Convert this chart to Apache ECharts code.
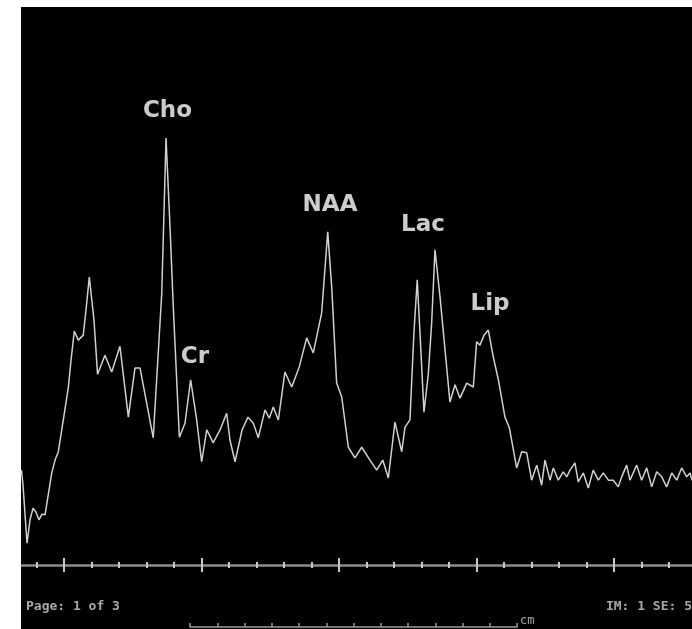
<!DOCTYPE html>
<html><head><meta charset="utf-8">
<script src="https://cdn.jsdelivr.net/npm/echarts@6/dist/echarts.min.js"></script>
<style>html,body{margin:0;padding:0;background:#fff}#c{width:692px;height:629px}</style>
</head><body><div id="c"></div>
<script>
// Chemical shift (ppm) of each traced point of the spectrum
const ppm = [4.309,4.298,4.269,4.247,4.225,4.204,4.182,4.160,4.138,4.089,4.065,4.041,4.009,3.969,3.949,3.925,3.896,3.860,3.840,3.816,3.782,3.756,3.702,3.653,3.593,3.532,3.484,3.447,3.351,3.289,3.258,3.229,3.205,3.161,3.120,3.098,3.079,3.035,2.999,2.962,2.938,2.916,2.865,2.817,2.793,2.756,2.705,2.662,2.623,2.587,2.538,2.507,2.478,2.441,2.393,2.344,2.289,2.235,2.187,2.126,2.082,2.053,2.017,1.980,1.932,1.884,1.835,1.775,1.726,1.682,1.641,1.593,1.544,1.520,1.484,1.455,1.431,1.411,1.382,1.351,1.326,1.302,1.265,1.193,1.156,1.120,1.071,1.023,0.999,0.975,0.945,0.914,0.878,0.841,0.793,0.761,0.708,0.671,0.635,0.599,0.562,0.526,0.502,0.465,0.441,0.405,0.369,0.344,0.320,0.284,0.260,0.223,0.187,0.151,0.114,0.078,0.041,0.005,-0.031,-0.056,-0.092,-0.116,-0.165,-0.201,-0.238,-0.274,-0.311,-0.347,-0.383,-0.420,-0.456,-0.492,-0.529,-0.553,-0.567];
// Signal intensity (arbitrary units) at each point
const intensity = [17.0,14.3,3.9,8.1,10.2,9.5,8.1,9.1,9.0,16.5,18.8,20.3,25.4,31.7,36.7,41.9,40.3,41.2,45.7,51.6,43.9,34.2,37.6,34.6,39.2,26.5,35.3,35.3,22.8,48.7,76.5,60.6,46.2,22.9,25.4,29.6,33.2,26.0,18.5,24.2,23.1,21.9,24.2,27.2,22.4,18.5,24.2,26.5,25.4,22.8,27.8,26.3,28.3,26.0,34.6,31.9,35.5,40.7,38.0,45.2,59.7,49.8,32.6,30.1,21.1,19.2,21.1,18.8,17.0,18.8,15.6,25.6,20.3,24.7,26.0,41.6,51.1,41.6,27.4,34.1,43.4,56.5,48.0,29.2,32.3,29.9,32.6,31.9,40.0,39.4,41.2,42.1,37.3,33.2,26.5,24.6,17.4,20.3,20.1,15.2,17.9,14.3,18.8,15.2,17.4,15.2,16.7,15.8,17.0,18.3,14.9,16.5,13.8,17.0,15.2,16.5,15.2,15.2,14.0,15.8,17.9,15.2,17.9,15.2,17.4,14.0,16.7,15.8,14.0,16.5,15.2,17.4,15.8,16.5,15.2];
// Visible ppm range and axis tick positions
const ppmRange = [-0.5673, 4.3127];
const majorTicks = [0,1,2,3,4];
const minorTicks = [-0.4,-0.2,0.2,0.4,0.6,0.8,1.2,1.4,1.6,1.8,2.2,2.4,2.6,2.8,3.2,3.4,3.6,3.8,4.2];
// Labelled metabolite peaks
const peakNames = ['Cho','Cr','NAA','Lac','Lip'];
const peakPpm = [3.258,3.079,2.082,1.302,0.914];
const peakIntensity = [76.5,33.2,59.7,56.5,42.1];
// Scale bar and footer texts
const rulerSteps = 12;
const rulerUnit = 'cm';
const footerLeft = 'Page: 1 of 3';
const footerRight = 'IM: 1 SE: 5';

// layout (style only)
const labelOffsets = [[1.5,-15.6],[4.3,-11.6],[2.3,-15.6],[-12,-13.6],[1.7,-14.6]];

const chart = echarts.init(document.getElementById('c'), null, {renderer:'canvas'});
function ppmAxis(showLine, tickVals, inside, len, w){
  return {
    type:'value', gridIndex:0, min:ppmRange[0], max:ppmRange[1], inverse:true, position:'bottom',
    axisLine:{show:showLine, onZero:false, lineStyle:{color:'#8c8c8c', width:2.5}},
    axisTick:{show:true, customValues:tickVals, inside:inside, length:len,
              lineStyle:{color:'#c8c8c8', width:w}},
    axisLabel:{show:false}, splitLine:{show:false}
  };
}
chart.setOption({
  animation:false,
  backgroundColor:'#000',
  grid:[
    {left:21, right:0, top:7, bottom:64},
    {left:190, right:175, top:626, bottom:2}
  ],
  xAxis:[
    ppmAxis(true, majorTicks, false, 7, 2),
    ppmAxis(false, majorTicks, true, 7, 2),
    ppmAxis(false, minorTicks, false, 3, 2),
    ppmAxis(false, minorTicks, true, 3, 2),
    {type:'value', gridIndex:1, min:0, max:rulerSteps, interval:1, position:'bottom',
     axisLine:{show:true, onZero:false, lineStyle:{color:'#9a9a9a', width:1.5}},
     axisTick:{show:true, inside:true, length:4, lineStyle:{color:'#9a9a9a', width:1.5}},
     axisLabel:{show:false}, splitLine:{show:false}}
  ],
  yAxis:[
    {type:'value', gridIndex:0, min:0, max:100, show:false},
    {type:'value', gridIndex:1, min:0, max:1, show:false}
  ],
  series:[
    {type:'line', xAxisIndex:0, yAxisIndex:0, showSymbol:false, symbol:'none',
     data: ppm.map((p,i)=>[p,intensity[i]]),
     lineStyle:{color:'#d0d0d0', width:1.5}, z:3},
    {type:'scatter', xAxisIndex:0, yAxisIndex:0, symbolSize:0, z:4,
     data: peakNames.map((n,i)=>({name:n, value:[peakPpm[i],peakIntensity[i]],
       label:{offset:labelOffsets[i]}})),
     label:{show:true, position:'top', distance:0, formatter:'{b}',
       color:'#ffffff', fontFamily:'DejaVu Sans', fontWeight:'bold', fontSize:23}}
  ],
  graphic:[
    {type:'text', left:26, top:600, z:50, style:{text:footerLeft, fill:'#a8a8a8',
      font:'bold 13px "DejaVu Sans Mono"'}},
    {type:'text', right:0, top:600, z:50, style:{text:footerRight, fill:'#a8a8a8',
      font:'bold 13px "DejaVu Sans Mono"'}},
    {type:'text', left:520, top:615, z:50, style:{text:rulerUnit, fill:'#a8a8a8',
      font:'12px "DejaVu Sans Mono"'}},
    {type:'rect', shape:{x:0,y:0,width:21,height:629}, style:{fill:'#ffffff'}, z:100},
    {type:'rect', shape:{x:0,y:0,width:692,height:7}, style:{fill:'#ffffff'}, z:100}
  ]
});
</script></body></html>
